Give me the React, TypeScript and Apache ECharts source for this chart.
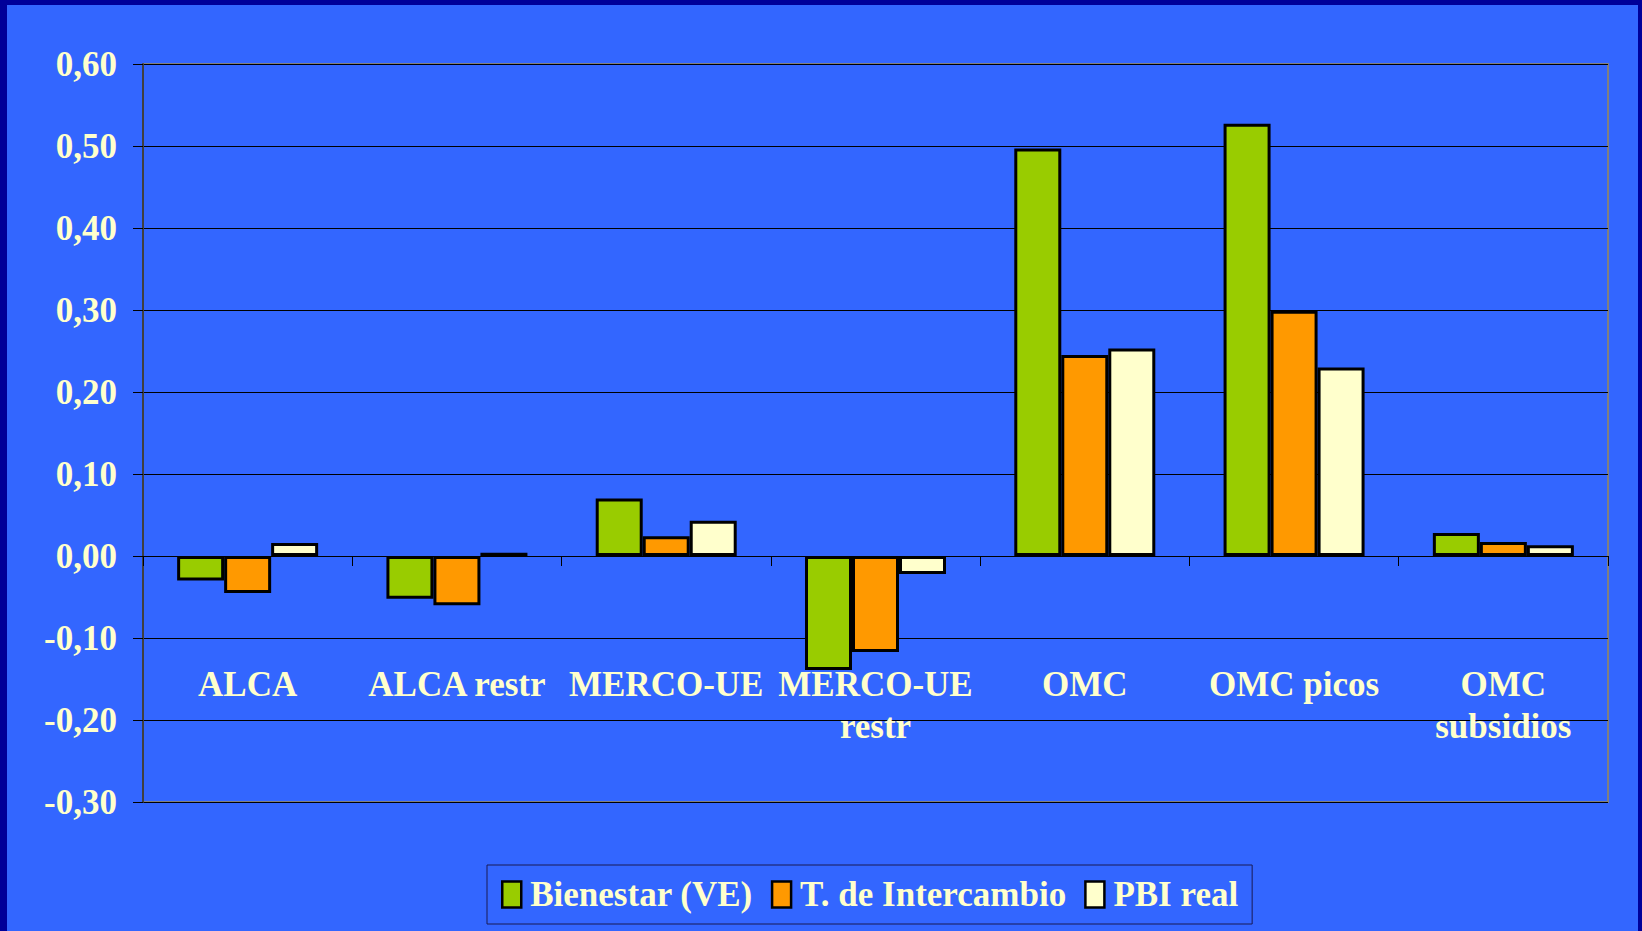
import React, { useEffect, useRef } from "react";
import * as echarts from "echarts";

const categories = [
  "ALCA",
  "ALCA restr",
  "MERCO-UE",
  "MERCO-UE\nrestr",
  "OMC",
  "OMC picos",
  "OMC\nsubsidios",
];
const seriesNames = ["Bienestar (VE)", "T. de Intercambio", "PBI real"];
const bienestar = [-0.03, -0.052, 0.07, -0.139, 0.497, 0.527, 0.028];
const intercambio = [-0.045, -0.06, 0.024, -0.117, 0.245, 0.299, 0.017];
const pbiReal = [0.016, 0.004, 0.043, -0.022, 0.253, 0.23, 0.013];
const seriesColors = ["#99CC00", "#FF9900", "#FFFFCC"];
const yMin = -0.3;
const yMax = 0.6;
const yStep = 0.1;

const FONT = "'Liberation Serif', 'Times New Roman', serif";
const TEXT = "#FFFFCC";

export default function App() {
  const ref = useRef<HTMLDivElement>(null);
  useEffect(() => {
    document.body.style.margin = "0";
    if (!ref.current) return;
    const chart = echarts.init(ref.current, null, { renderer: "svg" });
    const data = [bienestar, intercambio, pbiReal];
    chart.setOption({
      animation: false,
      backgroundColor: "#3366FF",
      grid: {
        left: 143,
        right: 34,
        top: 64,
        bottom: 129,
        containLabel: false,
        outerBoundsMode: "none",
        show: true,
        borderColor: "#808080",
        borderWidth: 2,
        backgroundColor: "transparent",
      },
      legend: {
        left: 487,
        top: 865,
        padding: [12, 14, 12, 14],
        borderColor: "#1a1a55",
        borderWidth: 1,
        itemWidth: 19,
        itemHeight: 26,
        itemGap: 18,
        icon: "rect",
        itemStyle: { borderColor: "#000", borderWidth: 2.5 },
        textStyle: {
          color: TEXT,
          fontFamily: FONT,
          fontWeight: "bold",
          fontSize: 35,
          padding: [0, 0, 0, 4],
        },
        data: seriesNames,
      },
      xAxis: {
        type: "category",
        data: categories,
        axisLine: { onZero: true, lineStyle: { color: "#000", width: 1 } },
        axisTick: { show: true, length: 10, lineStyle: { color: "#000" } },
        axisLabel: {
          interval: 0,
          margin: -139,
          color: TEXT,
          fontFamily: FONT,
          fontWeight: "bold",
          fontSize: 35,
          lineHeight: 42,
        },
        splitLine: { show: false },
      },
      yAxis: {
        type: "value",
        min: yMin,
        max: yMax,
        interval: yStep,
        axisLine: { show: true, lineStyle: { color: "#404040", width: 2 } },
        axisTick: { show: true, length: 10, lineStyle: { color: "#000" } },
        axisLabel: {
          margin: 26,
          color: TEXT,
          fontFamily: FONT,
          fontWeight: "bold",
          fontSize: 35,
          formatter: (v: number) => v.toFixed(2).replace(".", ","),
        },
        splitLine: { show: true, lineStyle: { color: "#000", width: 1 } },
      },
      graphic: [
        { type: "rect", shape: { x: 0, y: 0, width: 7, height: 931 }, style: { fill: "#000099" } },
        { type: "rect", shape: { x: 0, y: 0, width: 1642, height: 5 }, style: { fill: "#000099" } },
        { type: "rect", shape: { x: 1638, y: 0, width: 4, height: 931 }, style: { fill: "#000099" } },
      ],
      series: seriesNames.map((name, i) => ({
        name,
        type: "bar",
        data: data[i],
        barWidth: 47,
        barGap: "0%",
        itemStyle: { color: seriesColors[i], borderColor: "#000", borderWidth: 3 },
      })),
    });
    return () => chart.dispose();
  }, []);
  return (
    <div
      ref={ref}
      style={{ width: 1642, height: 931, position: "absolute", left: 0, top: 0 }}
    />
  );
}
